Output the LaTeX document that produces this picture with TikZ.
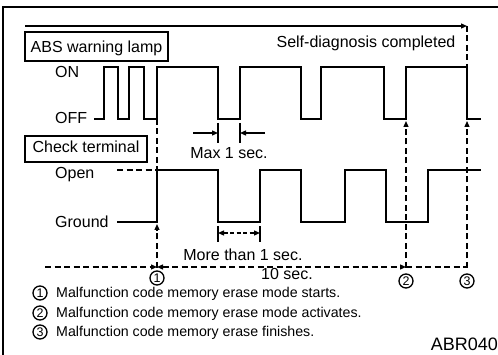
\documentclass[tikz,border=0pt]{standalone}
\usepackage{fontspec}
\setmainfont{Liberation Sans}
\usetikzlibrary{arrows.meta}
\begin{document}
\begin{tikzpicture}[x=1pt,y=-1pt,
  wave/.style={line width=2.4pt,line join=miter},
  thin/.style={line width=1.3pt},
  dsh/.style={line width=1.3pt,dash pattern=on 6pt off 3.5pt},
  tip/.style={-{Triangle[length=6pt,width=5pt]}},
  lbl/.style={inner sep=0pt,font=\fontsize{16}{16}\selectfont},
  leg/.style={inner sep=0pt,font=\fontsize{14.2}{14.2}\selectfont},
  cnum/.style={circle,draw,line width=1.3pt,inner sep=0pt,minimum size=14pt,font=\fontsize{12.5}{12.5}\selectfont},
  boxed/.style={draw,line width=1.4pt}]
\useasboundingbox (0,0) rectangle (498,355);
% frame
\draw[line width=1.8pt] (3,355) -- (3,7) -- (498,7);
% label boxes
\draw[boxed] (25,32) rectangle (168,61);
\node[lbl,anchor=base] (abs) at (96.5,52.5) {ABS warning lamp};
\draw[boxed] (25,136) rectangle (147,162);
\node[lbl,anchor=base] (chk) at (86,152.5) {Check terminal};
\node[lbl,anchor=base west] (on) at (55,78) {ON};
\node[lbl,anchor=base west] (off) at (55,124) {OFF};
\node[lbl,anchor=base west] (open) at (55,179) {Open};
\node[lbl,anchor=base west] (gnd) at (55,228) {Ground};
% self diagnosis arrow
\coordinate (sdL) at (25,26);
\coordinate (sdR) at (467,26);
\draw[thin,tip] (sdL) -- (sdR);
\node[lbl,anchor=base] (sd) at (366,48) {Self-diagnosis completed};
% lamp waveform
\draw[wave] (94,119) -- (104,119) -- (104,67) -- (118,67) -- (118,119) -- (129,119) -- (129,67) -- (144,67) -- (144,119) -- (157,119) -- (157,67) -- (218,67) -- (218,119) -- (240,119) -- (240,67) -- (301,67) -- (301,119) -- (321,119) -- (321,67) -- (384,67) -- (384,119) -- (406,119) -- (406,67) -- (467,67) -- (467,119) -- (481,119);
% terminal waveform
\draw[dsh] (117,170) -- (157,170);
\draw[wave] (117,222) -- (157,222) -- (157,170) -- (218,170) -- (218,222) -- (260,222) -- (260,170) -- (301,170) -- (301,222) -- (345,222) -- (345,170) -- (386,170) -- (386,222) -- (428,222) -- (428,170) -- (481,170);
% vertical markers
\coordinate (m1a) at (157,119);
\coordinate (m1b) at (157,170);
\coordinate (m1c) at (157,224);
\coordinate (m1d) at (157,268);
\coordinate (m2a) at (406,121);
\coordinate (m2d) at (406,268);
\coordinate (m3a) at (467,121);
\coordinate (m3d) at (467,268);
\coordinate (m3t) at (467,26);
\coordinate (m3o) at (467,67);
\draw[dsh] (m1a) -- (m1b);
\draw[dsh,tip] (m1d) -- (m1c);
\draw[dsh,tip] (m2d) -- (m2a);
\draw[dsh,tip] (m3d) -- (m3a);
\draw[dsh] (m3t) -- (m3o);
% horizontal time line
\coordinate (hl) at (45,267);
\coordinate (h1) at (157,267);
\coordinate (h2) at (406,267);
\coordinate (h3) at (467,267);
\draw[dsh,tip] (hl) -- (h1);
\draw[dsh,{Triangle[length=6pt,width=5pt]}-{Triangle[length=6pt,width=5pt]}] (h1) -- (h2);
\draw[dsh] (h2) -- (h3);
\node[cnum] (c1) at (157,278) {1};
\node[cnum] (c2) at (406,281) {2};
\node[cnum] (c3) at (467,281) {3};
\node[lbl,anchor=base] (ten) at (287,280) {10 sec.};
% Max 1 sec
\coordinate (mx1t) at (218,123); \coordinate (mx1b) at (218,143);
\coordinate (mx2t) at (240,123); \coordinate (mx2b) at (240,143);
\draw[thin] (mx1t) -- (mx1b);
\draw[thin] (mx2t) -- (mx2b);
\coordinate (mxa) at (193,133); \coordinate (mxat) at (218,133);
\coordinate (mxb) at (265,133); \coordinate (mxbt) at (240,133);
\draw[thin,tip] (mxa) -- (mxat);
\draw[thin,tip] (mxb) -- (mxbt);
\node[lbl,anchor=base] (max) at (229,159) {Max 1 sec.};
% More than 1 sec
\coordinate (mt1t) at (218,226); \coordinate (mt1b) at (218,242);
\coordinate (mt2t) at (260,226); \coordinate (mt2b) at (260,242);
\draw[thin] (mt1t) -- (mt1b);
\draw[thin] (mt2t) -- (mt2b);
\coordinate (mta) at (218,233); \coordinate (mtb) at (260,233);
\draw[thin,{Triangle[length=6pt,width=5pt]}-{Triangle[length=6pt,width=5pt]},dash pattern=on 4pt off 2.5pt] (mta) -- (mtb);
\node[lbl,anchor=base] (more) at (243,261) {More than 1 sec.};
% legend
\node[cnum] (l1) at (40,293) {1};
\node[cnum] (l2) at (40,313) {2};
\node[cnum] (l3) at (40,332) {3};
\node[leg,anchor=base west] (t1) at (56,298) {Malfunction code memory erase mode starts.};
\node[leg,anchor=base west] (t2) at (56,318) {Malfunction code memory erase mode activates.};
\node[leg,anchor=base west] (t3) at (56,337) {Malfunction code memory erase finishes.};
\node[inner sep=0pt,anchor=base east,font=\fontsize{18}{18}\selectfont] (abr) at (498,350) {ABR040};
\end{tikzpicture}
\end{document}
